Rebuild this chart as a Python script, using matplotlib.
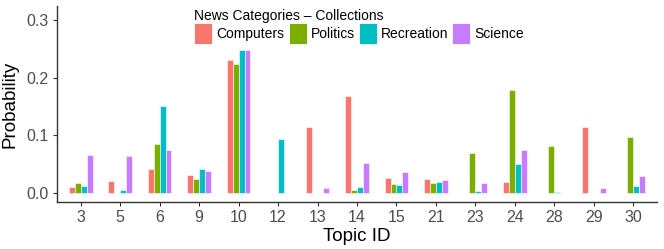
import matplotlib
matplotlib.use("Agg")
import matplotlib.pyplot as plt
import numpy as np

plt.rcParams['font.family'] = ['Liberation Sans', 'DejaVu Sans']

topics = ["3", "5", "6", "9", "10", "12", "13", "14", "15", "21", "23", "24", "28", "29", "30"]
categories = ["Computers", "Politics", "Recreation", "Science"]
computers  = [0.011, 0.021, 0.042, 0.032, 0.231, 0.001, 0.114, 0.169, 0.026, 0.024, 0.001, 0.020, 0.0005, 0.115, 0.001]
politics   = [0.017, 0.001, 0.085, 0.024, 0.224, 0.001, 0.0005, 0.005, 0.016, 0.018, 0.069, 0.178, 0.082, 0.0003, 0.097]
recreation = [0.012, 0.006, 0.151, 0.042, 0.248, 0.093, 0.001, 0.010, 0.014, 0.020, 0.003, 0.051, 0.002, 0.0005, 0.012]
science    = [0.066, 0.065, 0.074, 0.039, 0.248, 0.001, 0.009, 0.052, 0.037, 0.022, 0.017, 0.075, 0.001, 0.008, 0.030]
series = [computers, politics, recreation, science]
colors = ["#F8766D", "#7CAE00", "#00BFC4", "#C77CFF"]

fig = plt.figure(figsize=(6.64, 2.49), dpi=100)
ax = fig.add_axes([57/664, 1-202/249, 600/664, 196/249])

x = np.arange(len(topics))
total_w = 0.6
bw = total_w / 4
for i, (vals, c, name) in enumerate(zip(series, colors, categories)):
    ax.bar(x - total_w/2 + bw/2 + i*bw, vals, width=bw, color=c,
           edgecolor="white", linewidth=0.4, label=name)

ax.set_xlim(-0.6, 14.6)
ax.set_ylim(-0.0154, 0.324)
ax.set_xticks(x)
ax.set_xticklabels(topics)
ax.set_yticks([0.0, 0.1, 0.2, 0.3])
ax.set_yticklabels(["0.0", "0.1", "0.2", "0.3"])
for s in ["top", "right"]:
    ax.spines[s].set_visible(False)
for s in ["left", "bottom"]:
    ax.spines[s].set_color("#333333")
    ax.spines[s].set_linewidth(1.0)
ax.tick_params(axis="both", colors="#333333", labelcolor="#4D4D4D", labelsize=11.5,
               length=3, width=0.8, pad=3)
ax.set_xlabel("Topic ID", fontsize=13.5, color="black", labelpad=2)
ax.set_ylabel("Probability", fontsize=13.5, color="black", labelpad=6)

leg = ax.legend(loc="upper left", bbox_to_anchor=(184/664, 1+1/249),
                bbox_transform=fig.transFigure, ncol=4, frameon=False,
                title="News Categories \u2013 Collections", fontsize=10,
                title_fontsize=10, handlelength=1.3, handleheight=1.9,
                handletextpad=0.28, columnspacing=0.3, borderpad=0.25,
                labelspacing=0.0, alignment="left")
for h in leg.legend_handles:
    h.set_edgecolor("white")
    h.set_linewidth(0.6)

fig.savefig("out.png", dpi=100)
